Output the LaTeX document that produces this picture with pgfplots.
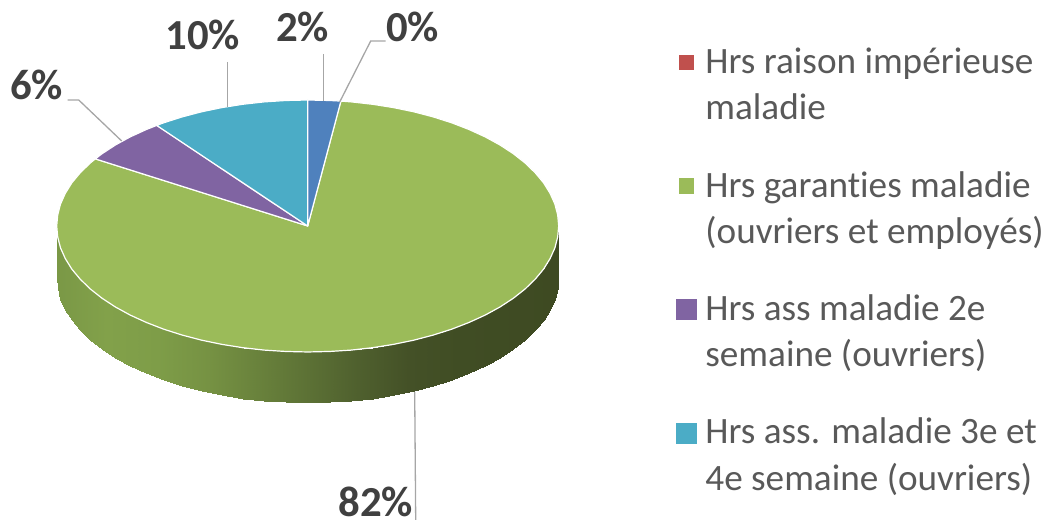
\documentclass[border=0pt]{standalone}
\usepackage{pgfplots}
\usepackage{fontspec}
\setmainfont[Ligatures=NoCommon]{Carlito}
\pgfplotsset{compat=1.18}
\definecolor{cred}{HTML}{C0504D}
\definecolor{cgreen}{HTML}{9BBB59}
\definecolor{cpurple}{HTML}{8064A2}
\definecolor{cteal}{HTML}{4BACC6}
\definecolor{cblue}{HTML}{4F81BD}
\definecolor{lead}{HTML}{A6A6A6}
\definecolor{lab}{HTML}{404040}
\definecolor{leg}{HTML}{595959}
\begin{document}
\begin{tikzpicture}
\begin{axis}[
  scale only axis, width=1048pt, height=522pt,
  xmin=-307.7, xmax=740.3, ymin=-296, ymax=226,
  hide axis, clip=false,
  colormap={side}{rgb255(0cm)=(122,152,70); rgb255(3cm)=(130,161,74); rgb255(6cm)=(126,157,72); rgb255(9cm)=(118,146,67); rgb255(12cm)=(105,130,60); rgb255(15cm)=(92,113,53); rgb255(18cm)=(79,96,46); rgb255(21cm)=(68,81,39); rgb255(24cm)=(64,77,36); rgb255(30cm)=(62,74,34)},
  point meta min=-251, point meta max=251,
]
\path (axis cs:-307.7,-296) rectangle (axis cs:740.3,226);
% side wall
\addplot[surf, shader=interp, mesh/rows=2, point meta=x, mark=none] table {
x y
-251 0
-250 -11
-247.2 -21.9
-242.4 -32.6
-235.9 -43.1
-227.5 -53.2
-217.4 -63
-205.6 -72.3
-192.3 -81
-177.5 -89.1
-161.3 -96.5
-144 -103.2
-125.5 -109.1
-106.1 -114.2
-85.8 -118.4
-65 -121.7
-43.6 -124.1
-21.9 -125.5
0 -126
21.9 -125.5
43.6 -124.1
65 -121.7
85.8 -118.4
106.1 -114.2
125.5 -109.1
144 -103.2
161.3 -96.5
177.5 -89.1
192.3 -81
205.6 -72.3
217.4 -63
227.5 -53.2
235.9 -43.1
242.4 -32.6
247.2 -21.9
250 -11
251 0
-251 -51
-250 -62
-247.2 -72.9
-242.4 -83.6
-235.9 -94.1
-227.5 -104.2
-217.4 -114
-205.6 -123.3
-192.3 -132
-177.5 -140.1
-161.3 -147.5
-144 -154.2
-125.5 -160.1
-106.1 -165.2
-85.8 -169.4
-65 -172.7
-43.6 -175.1
-21.9 -176.5
0 -177
21.9 -176.5
43.6 -175.1
65 -172.7
85.8 -169.4
106.1 -165.2
125.5 -160.1
144 -154.2
161.3 -147.5
177.5 -140.1
192.3 -132
205.6 -123.3
217.4 -114
227.5 -104.2
235.9 -94.1
242.4 -83.6
247.2 -72.9
250 -62
251 -51
};
% top face: green
\addplot[fill=cgreen, draw=white, line width=1.2pt, line join=round, mark=none] coordinates {
(0,0)(33.2,124.9)(43.6,124.1)(65,121.7)(85.8,118.4)(106.1,114.2)(125.5,109.1)(144,103.2)(161.3,96.5)(177.5,89.1)(192.3,81)(205.6,72.3)(217.4,63)(227.5,53.2)(235.9,43.1)(242.4,32.6)(247.2,21.9)(250,11)(251,0)
(250,-11)(247.2,-21.9)(242.4,-32.6)(235.9,-43.1)(227.5,-53.2)(217.4,-63)(205.6,-72.3)(192.3,-81)(177.5,-89.1)(161.3,-96.5)(144,-103.2)(125.5,-109.1)(106.1,-114.2)(85.8,-118.4)(65,-121.7)(43.6,-124.1)(21.9,-125.5)(0,-126)
(-21.9,-125.5)(-43.6,-124.1)(-65,-121.7)(-85.8,-118.4)(-106.1,-114.2)(-125.5,-109.1)(-144,-103.2)(-161.3,-96.5)(-177.5,-89.1)(-192.3,-81)(-205.6,-72.3)(-217.4,-63)(-227.5,-53.2)(-235.9,-43.1)(-242.4,-32.6)(-247.2,-21.9)(-250,-11)(-251,0)
(-250,11)(-247.2,21.9)(-242.4,32.6)(-235.9,43.1)(-227.5,53.2)(-217.4,63)(-212.4,67.1)
} -- cycle;
% purple
\addplot[fill=cpurple, draw=white, line width=1.2pt, line join=round, mark=none] coordinates {
(0,0)(-212.4,67.1)(-205.6,72.3)(-192.3,81)(-177.5,89.1)(-161.3,96.5)(-151,100.6)
} -- cycle;
% teal
\addplot[fill=cteal, draw=white, line width=1.2pt, line join=round, mark=none] coordinates {
(0,0)(-151,100.6)(-144,103.2)(-125.5,109.1)(-106.1,114.2)(-85.8,118.4)(-65,121.7)(-43.6,124.1)(-21.9,125.5)(0,126)
} -- cycle;
% blue
\addplot[fill=cblue, draw=white, line width=1.2pt, line join=round, mark=none] coordinates {
(0,0)(0,126)(21.9,125.5)(33.2,124.9)
} -- cycle;
% leaders
\addplot[lead, line width=1.3pt, mark=none] coordinates {(15.5,172)(15.5,125)};
\addplot[lead, line width=1.3pt, mark=none] coordinates {(78,185)(63,185)(32,124)};
\addplot[lead, line width=1.3pt, mark=none] coordinates {(-80,164)(-80,119)};
\addplot[lead, line width=1.3pt, mark=none] coordinates {(-240,126)(-229,126)(-186,85)};
\addplot[lead, line width=1.3pt, mark=none] coordinates {(107,-166)(108,-294)};
% labels
\node[anchor=base, text=lab, font=\fontsize{42.8}{42.8}\selectfont\bfseries, inner sep=0pt] at (axis cs:-5,184) {2\%};
\node[anchor=base, text=lab, font=\fontsize{42.8}{42.8}\selectfont\bfseries, inner sep=0pt] at (axis cs:105,184) {0\%};
\node[anchor=base, text=lab, font=\fontsize{42.8}{42.8}\selectfont\bfseries, inner sep=0pt] at (axis cs:-105,176) {10\%};
\node[anchor=base, text=lab, font=\fontsize{42.8}{42.8}\selectfont\bfseries, inner sep=0pt] at (axis cs:-271,126) {6\%};
\node[anchor=base, text=lab, font=\fontsize{42.8}{42.8}\selectfont\bfseries, inner sep=0pt] at (axis cs:68,-291) {82\%};
% legend keys
\addplot[fill=cred, draw=none, mark=none] coordinates {(371,171)(386,171)(386,155.5)(371,155.5)} -- cycle;
\addplot[fill=cgreen, draw=none, mark=none] coordinates {(371,48)(386,48)(386,32)(371,32)} -- cycle;
\addplot[fill=cpurple, draw=none, mark=none] coordinates {(368,-73)(389,-73)(389,-94)(368,-94)} -- cycle;
\addplot[fill=cteal, draw=none, mark=none] coordinates {(368,-197)(389,-197)(389,-218)(368,-218)} -- cycle;
% legend text
\foreach \yy/\tt in {152.5/Hrs raison impérieuse, 106.2/maladie, 28.5/Hrs garanties maladie, -17.8/(ouvriers et employés), -94.8/Hrs ass maladie 2e, -140.8/semaine (ouvriers), -217.8/Hrs ass. maladie 3e et, -264.8/4e semaine (ouvriers)} {
  \edef\temp{\noexpand\node[anchor=base west, text=leg, font=\noexpand\fontsize{37.2}{37.2}\noexpand\selectfont, inner sep=0pt] at (axis cs:397.5,\yy) {\tt};}
  \temp
}
\end{axis}
\end{tikzpicture}
\end{document}
